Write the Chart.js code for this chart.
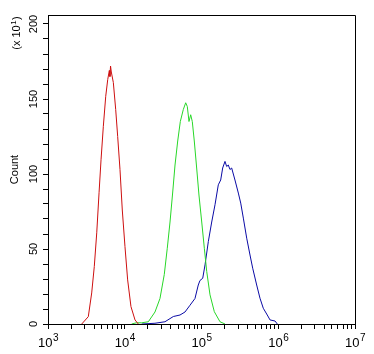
<!DOCTYPE html>
<html><head><meta charset="utf-8">
<script src="https://cdn.jsdelivr.net/npm/chart.js@4/dist/chart.umd.min.js"></script>
<style>html,body{margin:0;padding:0;background:#fff;}</style>
</head><body>
<canvas id="c" width="374" height="354" style="width:374px;height:354px;display:block"></canvas>
<script>
// Fluorescence intensity (x) and count (y, in units of 10^1)
const redX = [2750, 3350, 3710, 4010, 4315, 4625, 4910, 5260, 5650, 6000, 6295, 6410, 6530, 6680, 7100, 7620, 8090, 8670, 9290, 10070, 10910, 12050, 13610, 15030];
const redY = [0, 4.9, 20.7, 38.3, 60.8, 87.5, 109.5, 131.8, 151.8, 163, 169, 165, 172, 168, 161, 143, 125, 103, 76, 51.6, 29.4, 11.6, 2.7, 0];

const greenX = [12300, 14125, 16630, 20280, 24770, 28770, 32730, 35810, 38900, 42170, 45190, 48980, 52970, 57940, 62230, 65310, 68710, 72280, 75860, 80540, 86500, 92680, 100700, 108900, 116950, 129120, 146900, 174180, 202300];
const greenY = [0, 0.8, 0.8, 1.5, 8, 17, 33, 50.5, 68, 88, 106, 122, 135, 143, 147.5, 145, 135, 139.5, 135, 122, 104, 86, 68, 50.5, 35, 19.4, 8.2, 1.5, 0];

const blueX = [16630, 24770, 33420, 42950, 52480, 60950, 70800, 82220, 90780, 95500, 103750, 111170, 122740, 135830, 149970, 165580, 177830, 188800, 202300, 212810, 223360, 234960, 247170, 272900, 302000, 324340, 350750, 388150, 428550, 464520, 523600, 578100, 638260, 719450, 781630, 907820, 972750];
const blueY = [0, 0.5, 1.5, 5, 6, 8, 12.5, 17, 26, 29, 30.5, 39.4, 55, 68, 79.5, 92.8, 96, 104, 108.4, 105, 106, 103, 104, 96, 87.3, 80.6, 70.6, 57.2, 46, 37.2, 26, 17.2, 10.5, 6, 2.7, 2, 0];

const xTickValues = [1e3,2e3,3e3,4e3,5e3,6e3,7e3,8e3,9e3,1e4,2e4,3e4,4e4,5e4,6e4,7e4,8e4,9e4,1e5,2e5,3e5,4e5,5e5,6e5,7e5,8e5,9e5,1e6,2e6,3e6,4e6,5e6,6e6,7e6,8e6,9e6,1e7];
const xMajorTicks = [1e3, 1e4, 1e5, 1e6, 1e7];
const xTickExponents = ['3', '4', '5', '6', '7'];
const yTickValues = [0,10,20,30,40,50,60,70,80,90,100,110,120,130,140,150,160,170,180,190,200];
const yTickLabels = [0, 50, 100, 150, 200];

function pts(xs, ys){ return xs.map((x,i)=>({x:x, y:ys[i]})); }

const FONT = "'Liberation Sans', Arial, sans-serif";

const framePlugin = {
  id: 'frame',
  afterDraw(chart){
    const {ctx, chartArea:a} = chart;
    ctx.save();
    ctx.strokeStyle = '#000';
    ctx.lineWidth = 1;
    ctx.beginPath();
    ctx.moveTo(a.left, a.top + 0.5);
    ctx.lineTo(a.right + 0.5, a.top + 0.5);
    ctx.lineTo(a.right + 0.5, a.bottom);
    ctx.stroke();
    ctx.fillStyle = '#000';
    // x tick labels: 10 with superscript exponent
    const xs = chart.scales.x;
    ctx.textBaseline = 'alphabetic';
    ctx.textAlign = 'left';
    xMajorTicks.forEach((v, i) => {
      const px = xs.getPixelForValue(v);
      ctx.font = "13px " + FONT;
      const wb = ctx.measureText('10').width;
      ctx.font = "10px " + FONT;
      const we = ctx.measureText(xTickExponents[i]).width;
      const x0 = px - (wb + we) / 2;
      ctx.font = "13px " + FONT;
      ctx.fillText('10', x0, 347);
      ctx.font = "10px " + FONT;
      ctx.fillText(xTickExponents[i], x0 + wb + 0.5, 341);
    });
    // multiplier label, rotated
    ctx.save();
    ctx.translate(20, 0);
    ctx.rotate(-Math.PI/2);
    ctx.textAlign = 'left';
    ctx.font = "11px " + FONT;
    const t1 = '(x 10';
    const w1 = ctx.measureText(t1).width;
    ctx.font = "8px " + FONT;
    const w2 = ctx.measureText('1').width;
    ctx.font = "11px " + FONT;
    const w3 = ctx.measureText(')').width;
    const total = w1 + w2 + w3 + 1;
    const start = -(33 + total / 2);
    ctx.fillText(t1, start, 0);
    ctx.font = "8px " + FONT;
    ctx.fillText('1', start + w1 + 0.5, -4);
    ctx.font = "11px " + FONT;
    ctx.fillText(')', start + w1 + w2 + 1, 0);
    ctx.restore();
    ctx.restore();
  }
};

new Chart(document.getElementById('c'), {
  type: 'line',
  data: {
    datasets: [
      {data: pts(redX, redY), borderColor: 'rgb(205,15,15)'},
      {data: pts(greenX, greenY), borderColor: 'rgb(40,215,40)'},
      {data: pts(blueX, blueY), borderColor: 'rgb(10,10,165)'}
    ]
  },
  options: {
    responsive: false,
    devicePixelRatio: 1,
    animation: false,
    parsing: false,
    elements: {
      line: {borderWidth: 1, tension: 0, fill: false},
      point: {radius: 0}
    },
    layout: {padding: {top: 15, right: 19, left: 0, bottom: 0}},
    plugins: {legend: {display: false}, tooltip: {enabled: false}},
    scales: {
      x: {
        type: 'logarithmic',
        min: 1000, max: 1e7,
        afterBuildTicks(s){ s.ticks = xTickValues.map(v=>({value:v})); },
        afterFit(s){ s.height = 30; },
        ticks: {
          autoSkip: false, maxRotation: 0, minRotation: 0,
          color: '#000', padding: 1,
          font: {family: FONT, size: 13},
          callback(){ return ''; }
        },
        grid: {display: true, drawOnChartArea: false, drawTicks: true, tickLength: 5, color: '#000', lineWidth: 1},
        border: {display: true, color: '#000', width: 1}
      },
      y: {
        type: 'linear',
        min: 0, max: 206,
        afterBuildTicks(s){ s.ticks = yTickValues.map(v=>({value:v})); },
        afterFit(s){ s.width = 48; },
        ticks: {
          autoSkip: false, minRotation: 90, maxRotation: 90,
          crossAlign: 'center',
          color: '#000', padding: 0,
          font: {family: FONT, size: 11},
          callback(v){ return yTickLabels.includes(v) ? String(v) : ''; }
        },
        title: {display: true, text: 'Count', color: '#000', font: {family: FONT, size: 11}, padding: {top: 8, bottom: 0}},
        grid: {display: true, drawOnChartArea: false, drawTicks: true, tickLength: 5, color: '#000', lineWidth: 1},
        border: {display: true, color: '#000', width: 1}
      }
    }
  },
  plugins: [framePlugin]
});
</script>
</body></html>
